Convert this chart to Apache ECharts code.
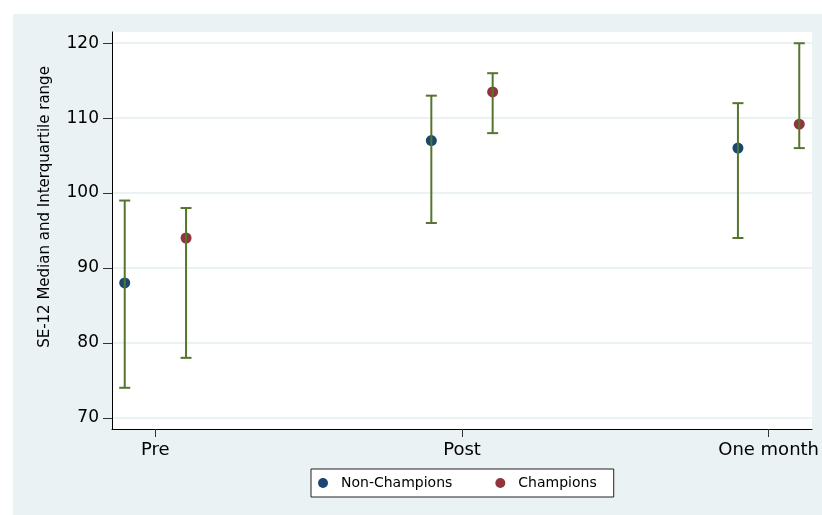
<!DOCTYPE html>
<html>
<head>
<meta charset="utf-8">
<script src="https://cdn.jsdelivr.net/npm/echarts@6/dist/echarts.min.js"></script>
<style>
  html, body { margin: 0; padding: 0; background: #fff; }
  #chart { width: 822px; height: 515px; }
</style>
</head>
<body>
<div id="chart"></div>
<script>
// Time points on the x axis
const categories = ['Pre', 'Post', 'One month'];
const yTicks = [70, 80, 90, 100, 110, 120];

// SE-12 medians and interquartile ranges per group
const nonChampMedian = [88, 107, 106];
const nonChampQ1 = [74, 96, 94];
const nonChampQ3 = [99, 113, 112];

const champMedian = [94, 113.5, 109.2];
const champQ1 = [78, 108, 106];
const champQ3 = [98, 116, 120];

const groupOffset = 0.1;
const FONT = 'DejaVu Sans';

const nonX = categories.map((c, i) => i + 1 - groupOffset);
const chX = categories.map((c, i) => i + 1 + groupOffset);

const nonPoints = nonChampMedian.map((v, i) => [nonX[i], v]);
const chPoints = champMedian.map((v, i) => [chX[i], v]);
const ranges = [
  ...nonChampQ1.map((lo, i) => [nonX[i], lo, nonChampQ3[i]]),
  ...champQ1.map((lo, i) => [chX[i], lo, champQ3[i]])
];

const chart = echarts.init(document.getElementById('chart'));

// Vertical bar from Q1 to Q3 with short caps at both ends
function renderRange(params, api) {
  const x = api.value(0);
  const lo = api.coord([x, api.value(1)]);
  const hi = api.coord([x, api.value(2)]);
  const half = 5.5;
  const style = { stroke: '#55752f', lineWidth: 2 };
  return {
    type: 'group',
    children: [
      { type: 'line', shape: { x1: lo[0], y1: lo[1], x2: hi[0], y2: hi[1] }, style },
      { type: 'line', shape: { x1: lo[0] - half, y1: lo[1], x2: lo[0] + half, y2: lo[1] }, style },
      { type: 'line', shape: { x1: hi[0] - half, y1: hi[1], x2: hi[0] + half, y2: hi[1] }, style }
    ]
  };
}

chart.setOption({
  animation: false,
  backgroundColor: '#ffffff',
  graphic: [
    {
      type: 'rect', z: -10, silent: true,
      shape: { x: 13, y: 14, width: 809, height: 501 },
      style: { fill: '#eaf2f3' }
    },
    {
      type: 'text', z: 10,
      x: 45, y: 207, rotation: Math.PI / 2,
      style: {
        text: 'SE-12 Median and Interquartile range',
        fill: '#000', font: '15px "' + FONT + '"',
        align: 'center', verticalAlign: 'middle'
      }
    }
  ],
  grid: {
    left: 112, right: 8, top: 32, bottom: 86,
    show: true, backgroundColor: '#ffffff', borderWidth: 0
  },
  legend: {
    left: 311, top: 469,
    selectedMode: false,
    backgroundColor: '#ffffff',
    borderColor: '#222', borderWidth: 1, borderRadius: 0,
    padding: [7, 17, 7, 7],
    itemGap: 43,
    itemWidth: 10, itemHeight: 10,
    textStyle: { fontFamily: FONT, fontSize: 14, color: '#000', padding: [0, 0, 0, 8] },
    data: [
      { name: 'Non-Champions', icon: 'circle' },
      { name: 'Champions', icon: 'circle' }
    ]
  },
  xAxis: {
    type: 'value', min: 0.8585, max: 3.1415,
    axisLine: { show: true, onZero: false, lineStyle: { color: '#000', width: 1 } },
    axisTick: { show: true, length: 8, customValues: [1, 2, 3], lineStyle: { color: '#333' } },
    axisLabel: {
      customValues: [1, 2, 3], margin: 12,
      fontFamily: FONT, fontSize: 18, color: '#000',
      formatter: v => categories[Math.round(v) - 1] || ''
    },
    splitLine: { show: false }
  },
  yAxis: {
    type: 'value', min: 68.5, max: 121.5,
    axisLine: { show: true, onZero: false, lineStyle: { color: '#000', width: 1 } },
    axisTick: { show: true, length: 9, customValues: yTicks, lineStyle: { color: '#333' } },
    axisLabel: {
      customValues: yTicks, margin: 13,
      fontFamily: FONT, fontSize: 17, color: '#000'
    },
    splitLine: { show: true, lineStyle: { color: '#eaf2f3', width: 2 } }
  },
  series: [
    {
      name: 'Non-Champions', type: 'scatter', data: nonPoints,
      symbol: 'circle', symbolSize: 11, z: 2,
      itemStyle: { color: '#1a476f', opacity: 1 }
    },
    {
      name: 'Champions', type: 'scatter', data: chPoints,
      symbol: 'circle', symbolSize: 11, z: 2,
      itemStyle: { color: '#90353b', opacity: 1 }
    },
    {
      name: 'IQR', type: 'custom', data: ranges, z: 3,
      renderItem: renderRange,
      encode: { x: 0, y: [1, 2] }
    }
  ]
});
</script>
</body>
</html>
